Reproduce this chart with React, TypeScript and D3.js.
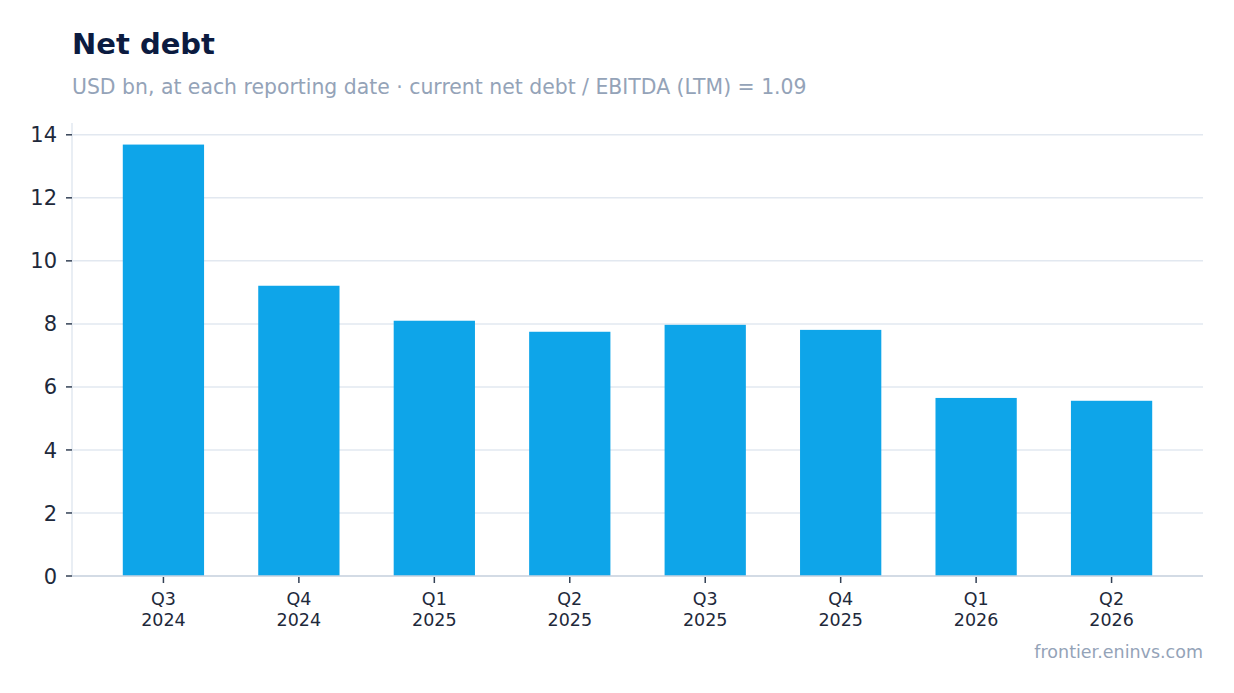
import React from 'react';
import * as d3 from 'd3';

// quarter-end net debt, USD bn
const quarters = ['Q3 2024', 'Q4 2024', 'Q1 2025', 'Q2 2025', 'Q3 2025', 'Q4 2025', 'Q1 2026', 'Q2 2026'];
const netDebt = [13.69, 9.21, 8.1, 7.75, 7.97, 7.81, 5.65, 5.56];
const yTicks = [0, 2, 4, 6, 8, 10, 12, 14];

const width = 1234;
const height = 693;
const margin = { top: 123, right: 31, bottom: 117, left: 72 };
const font = 'DejaVu Sans, sans-serif';

export default function App() {
  const x = d3.scaleBand()
    .domain(quarters)
    .range([margin.left, width - margin.right])
    .paddingInner(0.4)
    .paddingOuter(0.375);

  const yMax = (d3.max(netDebt) || 0) * 1.05;
  const y = d3.scaleLinear()
    .domain([0, yMax])
    .range([height - margin.bottom, margin.top]);

  const bottom = height - margin.bottom;

  return (
    <svg width={width} height={height} style={{ position: 'absolute', left: 0, top: 0, background: '#fff' }}>
      <text x={72} y={54} fontFamily={font} fontSize={29} fontWeight="bold" fill="#0b1b40">Net debt</text>
      <text x={72} y={94} fontFamily={font} fontSize={20.4} fill="#94a3b8">
        USD bn, at each reporting date · current net debt / EBITDA (LTM) = 1.09
      </text>

      {/* gridlines */}
      {yTicks.map(t => (
        <line key={t} x1={margin.left} x2={width - margin.right} y1={y(t)} y2={y(t)}
          stroke="#e2e8f0" strokeWidth={1.5} />
      ))}

      {/* bars */}
      {quarters.map((q, i) => (
        <rect key={q} x={x(q)} width={x.bandwidth()} y={y(netDebt[i])}
          height={bottom - y(netDebt[i])} fill="#0ea5e9" />
      ))}

      {/* spines */}
      <line x1={margin.left} x2={margin.left} y1={margin.top} y2={bottom} stroke="#e2e8f0" strokeWidth={1.5} />
      <line x1={margin.left} x2={width - margin.right} y1={bottom} y2={bottom} stroke="#cbd5e1" strokeWidth={1.5} />

      {/* y axis */}
      {yTicks.map(t => (
        <g key={t}>
          <line x1={margin.left - 6} x2={margin.left} y1={y(t)} y2={y(t)} stroke="#334155" strokeWidth={1.5} />
          <text x={margin.left - 15} y={y(t)} dy="0.36em" textAnchor="end" fontFamily={font}
            fontSize={21} fill="#1e293b">{t}</text>
        </g>
      ))}

      {/* x axis */}
      {quarters.map(q => {
        const cx = (x(q) || 0) + x.bandwidth() / 2;
        const [qq, yr] = q.split(' ');
        return (
          <g key={q}>
            <line x1={cx} x2={cx} y1={bottom + 1} y2={bottom + 7} stroke="#334155" strokeWidth={1.5} />
            <text x={cx} y={605} textAnchor="middle" fontFamily={font} fontSize={17.5} fill="#1e293b">{qq}</text>
            <text x={cx} y={625.5} textAnchor="middle" fontFamily={font} fontSize={17.5} fill="#1e293b">{yr}</text>
          </g>
        );
      })}

      <text x={1203} y={658} textAnchor="end" fontFamily={font} fontSize={17.5} fill="#94a3b8">frontier.eninvs.com</text>
    </svg>
  );
}
